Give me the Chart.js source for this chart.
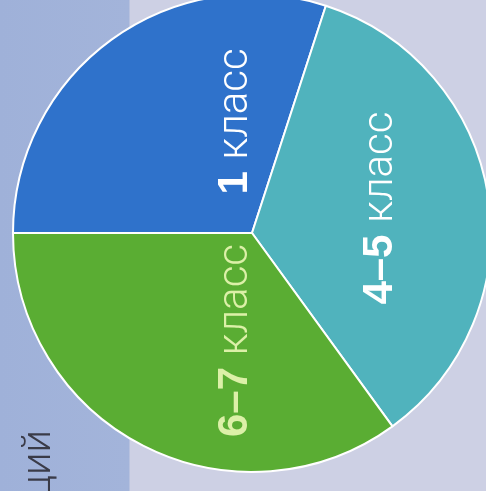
<!DOCTYPE html>
<html>
<head>
<meta charset="utf-8">
<script src="https://cdn.jsdelivr.net/npm/chart.js@4/dist/chart.umd.min.js"></script>
<style>
  html, body { margin: 0; padding: 0; width: 486px; height: 491px; overflow: hidden; }
  body { background: linear-gradient(to right, #9fb1d9 0, #a3b4da 129px, #cdd0e4 130px, #cdd0e4 100%); position: relative; }
  #wrap { position: absolute; left: 12px; top: -7px; width: 480px; height: 498px; }
</style>
</head>
<body>
<div id="wrap"><canvas id="pieChart" width="480" height="498"></canvas></div>
<script>
    "use strict";

    // grades and shares (per cent)
    var grades = ["1", "4–5", "6–7"];
    var word = "класс";
    var shares = [30, 35, 35];
    var colors = ["#2f72cb", "#50b3bd", "#5aad33"];
    var textColors = ["#ffffff", "#ffffff", "#dcf0a8"];
    var caption = "ций";

    // label anchors relative to pie centre: baseline offset x, centre offset y (px at r=240)
    var labelPos = [[-5, -112], [141, -25], [-5, 108]];

    var labelPlugin = {
        id: "rotLabels",
        afterDatasetsDraw: function (chart) {
            var ctx = chart.ctx;
            var arc = chart.getDatasetMeta(0).data[0];
            var k = arc.outerRadius / 240;
            ctx.save();
            for (var i = 0; i < grades.length; i++) {
                var bx = arc.x + labelPos[i][0] * k;
                var cy = arc.y + labelPos[i][1] * k;
                var boldFont = "bold 42px 'Liberation Sans', Arial, sans-serif";
                var lightFont = "300 42px Roboto, 'Liberation Sans', sans-serif";
                ctx.font = boldFont;
                var w1 = ctx.measureText(grades[i] + " ").width;
                ctx.font = lightFont;
                var w2 = ctx.measureText(word).width;
                ctx.save();
                ctx.translate(bx, cy);
                ctx.rotate(-Math.PI / 2);
                ctx.fillStyle = textColors[i];
                ctx.textBaseline = "alphabetic";
                ctx.textAlign = "left";
                ctx.font = boldFont;
                ctx.fillText(grades[i], -(w1 + w2) / 2, 0);
                ctx.font = lightFont;
                ctx.fillText(word, -(w1 + w2) / 2 + w1, 0);
                ctx.restore();
            }
            // fragment of the page caption on the left strip
            ctx.save();
            ctx.translate(arc.x - 202, arc.y + 197);
            ctx.rotate(-Math.PI / 2);
            ctx.fillStyle = "#3a3b48";
            ctx.font = "300 40px Roboto, 'Liberation Sans', sans-serif";
            ctx.textAlign = "right";
            ctx.textBaseline = "alphabetic";
            ctx.fillText(caption, 0, 0);
            ctx.restore();
            ctx.restore();
        }
    };

    var ctx = document.getElementById("pieChart").getContext("2d");
    var pieChart = new Chart(ctx, {
        type: "pie",
        data: {
            labels: grades.map(function (g) { return g + " " + word; }),
            datasets: [{
                data: shares,
                backgroundColor: colors,
                borderColor: "#ffffff",
                borderWidth: 2
            }]
        },
        options: {
            responsive: false,
            animation: false,
            rotation: 270,
            layout: { padding: { bottom: 18 } },
            plugins: {
                legend: { display: false },
                tooltip: { enabled: false }
            }
        },
        plugins: [labelPlugin]
    });
</script>
</body>
</html>
